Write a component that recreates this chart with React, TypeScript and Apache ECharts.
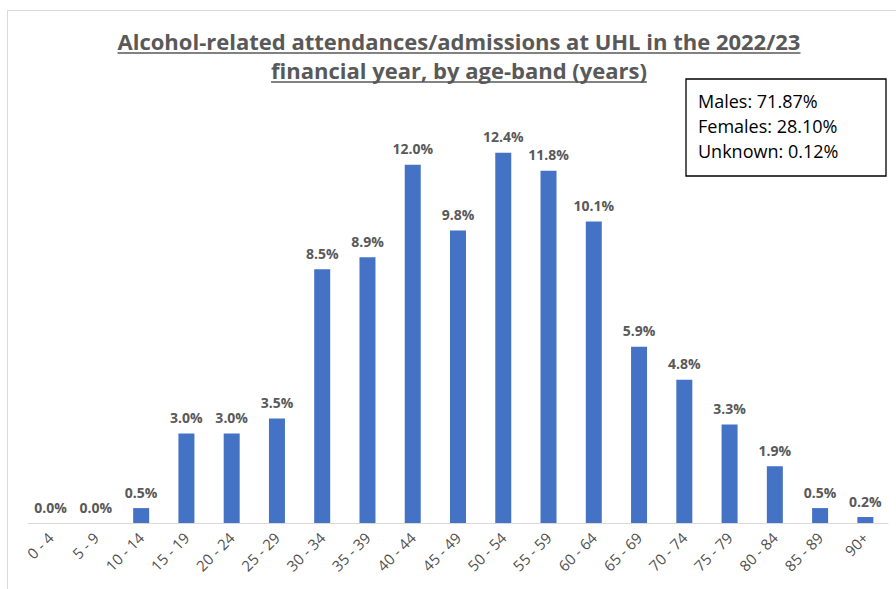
import React, { useEffect, useRef } from "react";
import * as echarts from "echarts";

const categories = [
  "0 - 4", "5 - 9", "10 - 14", "15 - 19", "20 - 24", "25 - 29", "30 - 34",
  "35 - 39", "40 - 44", "45 - 49", "50 - 54", "55 - 59", "60 - 64", "65 - 69",
  "70 - 74", "75 - 79", "80 - 84", "85 - 89", "90+",
];
const percentages = [
  0.0, 0.0, 0.5, 3.0, 3.0, 3.5, 8.5, 8.9, 12.0, 9.8, 12.4, 11.8, 10.1, 5.9,
  4.8, 3.3, 1.9, 0.5, 0.2,
];
const titleLines = [
  "Alcohol-related attendances/admissions at UHL in the 2022/23",
  "financial year, by age-band (years)",
];
const genderLines = ["Males: 71.87%", "Females: 28.10%", "Unknown: 0.12%"];

const FONT = '"Open Sans", "Noto Sans", sans-serif';

function measure(text: string, font: string): number {
  const ctx = document.createElement("canvas").getContext("2d");
  if (!ctx) return text.length * 10;
  ctx.font = font;
  return ctx.measureText(text).width;
}

export default function App() {
  const ref = useRef<HTMLDivElement>(null);
  useEffect(() => {
    if (!ref.current) return;
    const chart = echarts.init(ref.current, undefined, { renderer: "svg" });
    const titleFont = `bold 22px ${FONT}`;
    const titleCx = 459;
    const titleY = [41, 70];
    const graphics: any[] = [
      {
        type: "rect",
        z: -10,
        shape: { x: 7.5, y: 10.5, width: 920, height: 620 },
        style: { fill: "none", stroke: "#D9D9D9", lineWidth: 1 },
        silent: true,
      },
    ];
    titleLines.forEach((t, i) => {
      const w = measure(t, titleFont);
      graphics.push({
        type: "text",
        style: {
          text: t,
          x: titleCx,
          y: titleY[i],
          textAlign: "center",
          textVerticalAlign: "middle",
          font: titleFont,
          fill: "#595959",
        },
      });
      graphics.push({
        type: "line",
        shape: {
          x1: titleCx - w / 2,
          y1: titleY[i] + 12,
          x2: titleCx + w / 2,
          y2: titleY[i] + 12,
        },
        style: { stroke: "#595959", lineWidth: 1.5 },
      });
    });
    graphics.push({
      type: "rect",
      shape: { x: 686, y: 79, width: 200, height: 97 },
      style: { fill: "#ffffff", stroke: "#000000", lineWidth: 1.3 },
    });
    genderLines.forEach((t, i) => {
      graphics.push({
        type: "text",
        style: {
          text: t,
          x: 698,
          y: 101 + i * 25,
          textAlign: "left",
          textVerticalAlign: "middle",
          font: `18px ${FONT}`,
          fill: "#000000",
        },
      });
    });

    chart.setOption({
      animation: false,
      backgroundColor: "#ffffff",
      grid: { left: 28, right: 8, top: 105, bottom: 66, containLabel: false },
      xAxis: {
        type: "category",
        data: categories,
        axisLine: { lineStyle: { color: "#D9D9D9", width: 1 } },
        axisTick: { show: false },
        axisLabel: {
          rotate: 45,
          interval: 0,
          color: "#505050",
          fontSize: 15,
          fontFamily: FONT,
          margin: 12,
        },
      },
      yAxis: {
        type: "value",
        min: 0,
        max: 14,
        show: false,
        splitLine: { show: false },
      },
      series: [
        {
          type: "bar",
          data: percentages,
          barWidth: 16,
          itemStyle: { color: "#4472C4" },
          label: {
            show: true,
            position: "top",
            distance: 9,
            formatter: (p: any) => `${Number(p.value).toFixed(1)}%`,
            color: "#595959",
            fontWeight: "bold",
            fontSize: 14,
            fontFamily: FONT,
          },
        },
      ],
      graphic: graphics,
    });
    return () => chart.dispose();
  }, []);
  return (
    <div
      ref={ref}
      style={{ position: "fixed", left: 0, top: 0, width: 896, height: 589 }}
    />
  );
}
